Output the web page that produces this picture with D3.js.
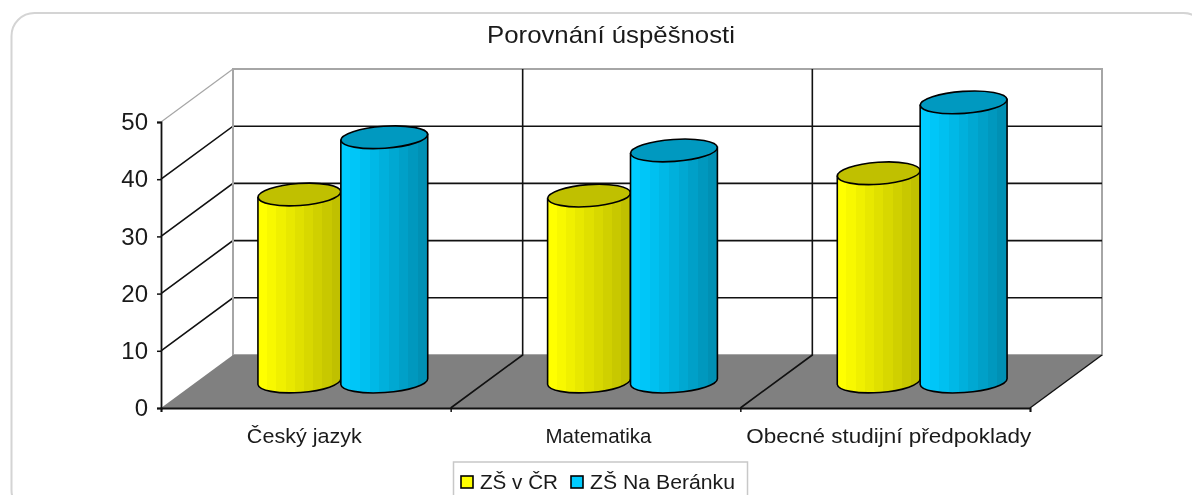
<!DOCTYPE html>
<html><head><meta charset="utf-8">
<script src="https://cdn.jsdelivr.net/npm/d3@7"></script>
<style>
html,body{margin:0;padding:0;background:#fff;overflow:hidden}
svg{display:block;filter:blur(0.45px)}
text{font-family:"Liberation Sans",Arial,sans-serif;fill:#1a1a1a}
</style></head><body>
<svg id="c" width="1192" height="495"></svg>
<script>
const title = "Porovnání úspěšnosti";
const categories = ["Český jazyk", "Matematika", "Obecné studijní předpoklady"];
const seriesNames = ["ZŠ v ČR", "ZŠ Na Beránku"];
const valuesCR = [32.7, 32.5, 36.4];
const valuesBeranek = [42.7, 40.4, 48.8];
const yTicks = [0, 10, 20, 30, 40, 50];
const yellowShades = ["#ffff00","#f8f800","#f0f000","#e8e800","#e0e000","#d8d800","#d0d000","#c8c800","#c0c000"];
const blueShades = ["#00ccff","#00c6f8","#00c0f0","#00b8e6","#00b0dc","#00a8d2","#00a0c8","#0098be","#0090b4"];
const series = [
  {name: seriesNames[0], values: valuesCR, shades: yellowShades, cap: "#c0c000", key: "#ffff00"},
  {name: seriesNames[1], values: valuesBeranek, shades: blueShades, cap: "#0099c0", key: "#00ccff"}
];

const svg = d3.select("#c");
const depth = {x: 72, y: -53};
const x = d3.scaleBand().domain(categories).range([161, 1030]);
const y = d3.scaleLinear().domain([0, 50]).range([408, 122]);
const inner = d3.scaleBand().domain(d3.range(series.length)).range([0, 1]).paddingInner(0).paddingOuter(0.706);

// card frame (runs off the right and bottom of the picture)
svg.append("rect")
  .attr("x", 11.5).attr("y", 13).attr("width", 1195).attr("height", 500).attr("rx", 23)
  .attr("fill", "none").attr("stroke", "#d4d4d4").attr("stroke-width", 2);

// back wall
const grid = svg.append("g");
grid.append("rect")
  .attr("x", x.range()[0] + depth.x).attr("y", y(50) + depth.y)
  .attr("width", x.range()[1] - x.range()[0]).attr("height", y(0) - y(50))
  .attr("fill", "#fff").attr("stroke", "#a6a6a6").attr("stroke-width", 2);
grid.append("line")
  .attr("x1", x.range()[0]).attr("y1", y(50))
  .attr("x2", x.range()[0] + depth.x).attr("y2", y(50) + depth.y)
  .attr("stroke", "#a6a6a6").attr("stroke-width", 1.2);
const fx0 = x.range()[0], fx1 = x.range()[1];
grid.append("path")
  .attr("d", `M${fx0},${y(0)}L${fx0+depth.x},${y(0)+depth.y}H${fx1+depth.x}L${fx1},${y(0)}Z`)
  .attr("fill", "#808080");
yTicks.filter(t => t > 0 && t < 50).forEach(t => {
  grid.append("path")
    .attr("d", `M${fx0},${y(t)}L${fx0+depth.x},${y(t)+depth.y}H${fx1+depth.x}`)
    .attr("fill", "none").attr("stroke", "#111").attr("stroke-width", 1.6);
});
categories.slice(1).forEach(c => {
  const bx = x(c);
  grid.append("path")
    .attr("d", `M${bx},${y(0)}L${bx+depth.x},${y(0)+depth.y}V${y(50)+depth.y}`)
    .attr("fill", "none").attr("stroke", "#111").attr("stroke-width", 1.6);
});
grid.append("line")
  .attr("x1", fx1).attr("y1", y(0))
  .attr("x2", fx1 + depth.x).attr("y2", y(0) + depth.y)
  .attr("stroke", "#111").attr("stroke-width", 1.4);
grid.append("line")
  .attr("x1", fx0+depth.x).attr("y1", y(0)+depth.y)
  .attr("x2", fx0+depth.x).attr("y2", y(50)+depth.y)
  .attr("stroke", "#a6a6a6").attr("stroke-width", 2);

// cylinders
const defs = svg.append("defs");
series.forEach((s, i) => {
  const g = defs.append("linearGradient").attr("id", "g" + i);
  s.shades.forEach((col, k) => {
    g.append("stop").attr("offset", k / s.shades.length).attr("stop-color", col);
    g.append("stop").attr("offset", (k + 1) / s.shades.length).attr("stop-color", col);
  });
});
const rw = x.bandwidth();
const rx = inner.bandwidth() * rw / 2, ry = 11, tilt = 3, rot = -4;
const marks = svg.append("g");
categories.forEach((c, ci) => {
  series.forEach((s, si) => {
    const cx = x(c) + (inner(si) + inner.bandwidth() / 2) * rw + depth.x / 2;
    const yb = y(0) + depth.y / 2;
    const yt = y(s.values[ci]) + depth.y / 2;
    const r = rx + (si === 1 ? 1 : -1);
    const ell = `A${r},${ry} ${rot} 0 0`;
    marks.append("path")
      .attr("d", `M${cx-r},${yt+tilt}V${yb+tilt}${ell} ${cx+r},${yb-tilt}V${yt-tilt}Z`)
      .attr("fill", `url(#g${si})`).attr("stroke", "#000").attr("stroke-width", 1.6);
    marks.append("ellipse")
      .attr("cx", cx).attr("cy", yt).attr("rx", r).attr("ry", ry)
      .attr("transform", `rotate(${rot} ${cx} ${yt})`)
      .attr("fill", s.cap).attr("stroke", "#000").attr("stroke-width", 1.6);
  });
});

// axes
const axisL = d3.axisLeft(y).tickValues(yTicks).tickSize(4).tickPadding(9);
const gy = svg.append("g").attr("transform", "translate(161,0)").call(axisL);
gy.selectAll("text").style("font-size", "24px").attr("fill", "#1a1a1a");
const xTickScale = d3.scaleLinear().domain([0, categories.length]).range(x.range());
const axisB = d3.axisBottom(xTickScale).tickValues(d3.range(categories.length + 1)).tickSize(4).tickFormat("");
svg.append("g").attr("transform", "translate(0,408)").call(axisB);
svg.selectAll(".domain").attr("stroke", "#111").attr("stroke-width", 1.8);
svg.selectAll(".tick line").attr("stroke", "#111").attr("stroke-width", 1.5);

// category labels
const labelNudge = [-1.5, 3, 3.5];
const labelWidth = [115, 106, 285];
svg.append("g").selectAll("text").data(categories).join("text")
  .attr("x", (c, i) => x(c) + rw / 2 + labelNudge[i])
  .attr("y", 443).attr("text-anchor", "middle").style("font-size", "20.5px")
  .attr("textLength", (c, i) => labelWidth[i]).attr("lengthAdjust", "spacingAndGlyphs").text(c => c);

// title
svg.append("text").attr("x", 611).attr("y", 43).attr("text-anchor", "middle")
  .style("font-size", "24px").attr("textLength", 248).attr("lengthAdjust", "spacingAndGlyphs").text(title);

// legend
const lg = svg.append("g");
lg.append("rect").attr("x", 453.5).attr("y", 462).attr("width", 294).attr("height", 40)
  .attr("fill", "#fff").attr("stroke", "#c8c8c8").attr("stroke-width", 1.5);
const legendX = [461, 571];
const legendWidth = [78, 145];
series.forEach((s, i) => {
  lg.append("rect").attr("x", legendX[i]).attr("y", 476).attr("width", 12).attr("height", 12)
    .attr("fill", s.key).attr("stroke", "#000").attr("stroke-width", 1.6);
  lg.append("text").attr("x", legendX[i] + 19).attr("y", 488.5).style("font-size", "20.5px")
    .attr("textLength", legendWidth[i]).attr("lengthAdjust", "spacingAndGlyphs").text(s.name);
});
</script></body></html>
